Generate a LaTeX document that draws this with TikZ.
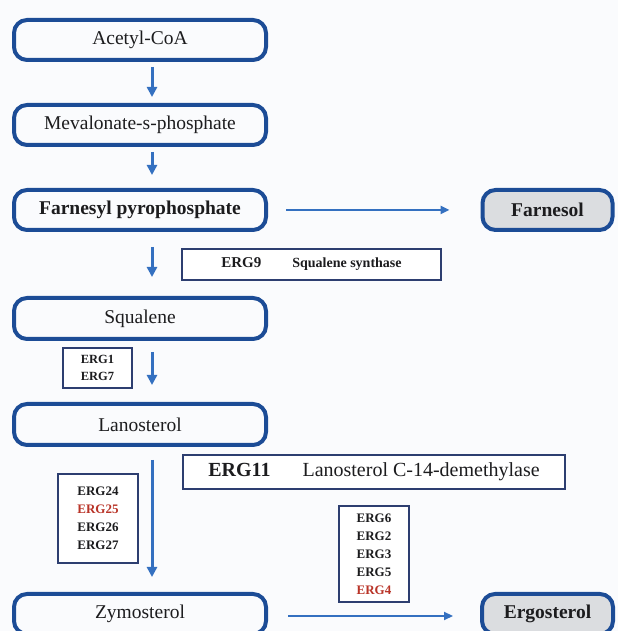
\documentclass[tikz,border=0pt]{standalone}
\usepackage{fontspec}
\setmainfont{Liberation Serif}
\usetikzlibrary{arrows.meta}
\definecolor{ergborder}{RGB}{28,76,150}
\definecolor{ergarrow}{RGB}{52,112,192}
\definecolor{ergframe}{RGB}{45,62,112}
\definecolor{ergred}{RGB}{185,52,40}
\definecolor{ergfill}{RGB}{219,221,224}
\definecolor{ergbg}{RGB}{250,251,253}
\definecolor{ergtext}{RGB}{28,28,30}

\begin{document}
\begin{tikzpicture}[x=1pt,y=1pt,
  metabox/.style={draw=ergborder,line width=4pt,rounded corners=13pt,fill=ergbg,
    minimum width=252pt,minimum height=40pt,inner sep=0pt,text=ergtext,
    font=\fontsize{19.5}{22}\selectfont},
  endbox/.style={metabox,fill=ergfill,minimum width=130pt,
    font=\fontsize{19.5}{22}\selectfont\bfseries},
  genebox/.style={draw=ergframe,line width=1.6pt,fill=white,inner sep=0pt,
    text=ergtext,align=center,font=\fontsize{13}{18}\selectfont\bfseries},
  flow/.style={draw=ergarrow,line width=3pt,-{Triangle[length=10pt,width=10pt]}},
  sideflow/.style={draw=ergarrow,line width=2.4pt,-{Triangle[length=9pt,width=8pt]}}]
\path[use as bounding box] (0,0) rectangle (618,631);
\clip (0,0) rectangle (618,631);
\fill[ergbg] (0,0) rectangle (618,631);
\node[metabox] (acetyl) at (140,591) {Acetyl-CoA};
\node[metabox] (meval) at (140,506) {Mevalonate-s-phosphate};
\node[metabox,font=\fontsize{19.5}{22}\selectfont\bfseries] (farnesyl) at (140,421) {Farnesyl pyrophosphate};
\node[metabox,minimum height=41pt] (squalene) at (140,312.5) {Squalene};
\node[metabox,minimum height=41pt] (lanosterol) at (140,206.5) {Lanosterol};
\node[metabox] (zymosterol) at (140,17) {Zymosterol};
\node[endbox] (farnesol) at (547.5,421) {Farnesol};
\node[endbox,minimum width=131pt] (ergosterol) at (547.5,17) {Ergosterol};
\node[genebox,minimum width=259pt,minimum height=31pt] (erg9) at (311.5,366.5)
  {{\fontsize{15}{18}\selectfont ERG9}\hspace{31pt}{\fontsize{14}{18}\selectfont Squalene synthase}};
\node[genebox,minimum width=69pt,minimum height=40pt,font=\fontsize{12.5}{17}\selectfont\bfseries] (erg1) at (97.5,263)
  {ERG1\\ERG7};
\node[genebox,minimum width=382pt,minimum height=34pt,font=\fontsize{20}{22}\selectfont] (erg11) at (374,159)
  {\textbf{ERG11}\hspace{32pt}Lanosterol C-14-demethylase};
\node[genebox,minimum width=80pt,minimum height=89pt] (erg24) at (98,112.5)
  {ERG24\\\textcolor{ergred}{ERG25}\\ERG26\\ERG27};
\node[genebox,minimum width=70pt,minimum height=96pt] (erg6) at (374,77)
  {ERG6\\ERG2\\ERG3\\ERG5\\\textcolor{ergred}{ERG4}};
\foreach \a/\b/\s/\e in {acetyl/meval/5/6,meval/farnesyl/5/13,farnesyl/squalene/15/19,
    squalene/lanosterol/11/17,lanosterol/zymosterol/13/15}
  \draw[flow,shorten <=\s pt,shorten >=\e pt] ([xshift=12pt]\a.south) -- ([xshift=12pt]\b.north);
\draw[sideflow,shorten <=18pt,shorten >=31pt] (farnesyl.east) -- (farnesol.west);
\draw[sideflow,shorten <=20pt,shorten >=27pt] ([yshift=-2pt]zymosterol.east) -- ([yshift=-2pt]ergosterol.west);
\end{tikzpicture}
\end{document}
